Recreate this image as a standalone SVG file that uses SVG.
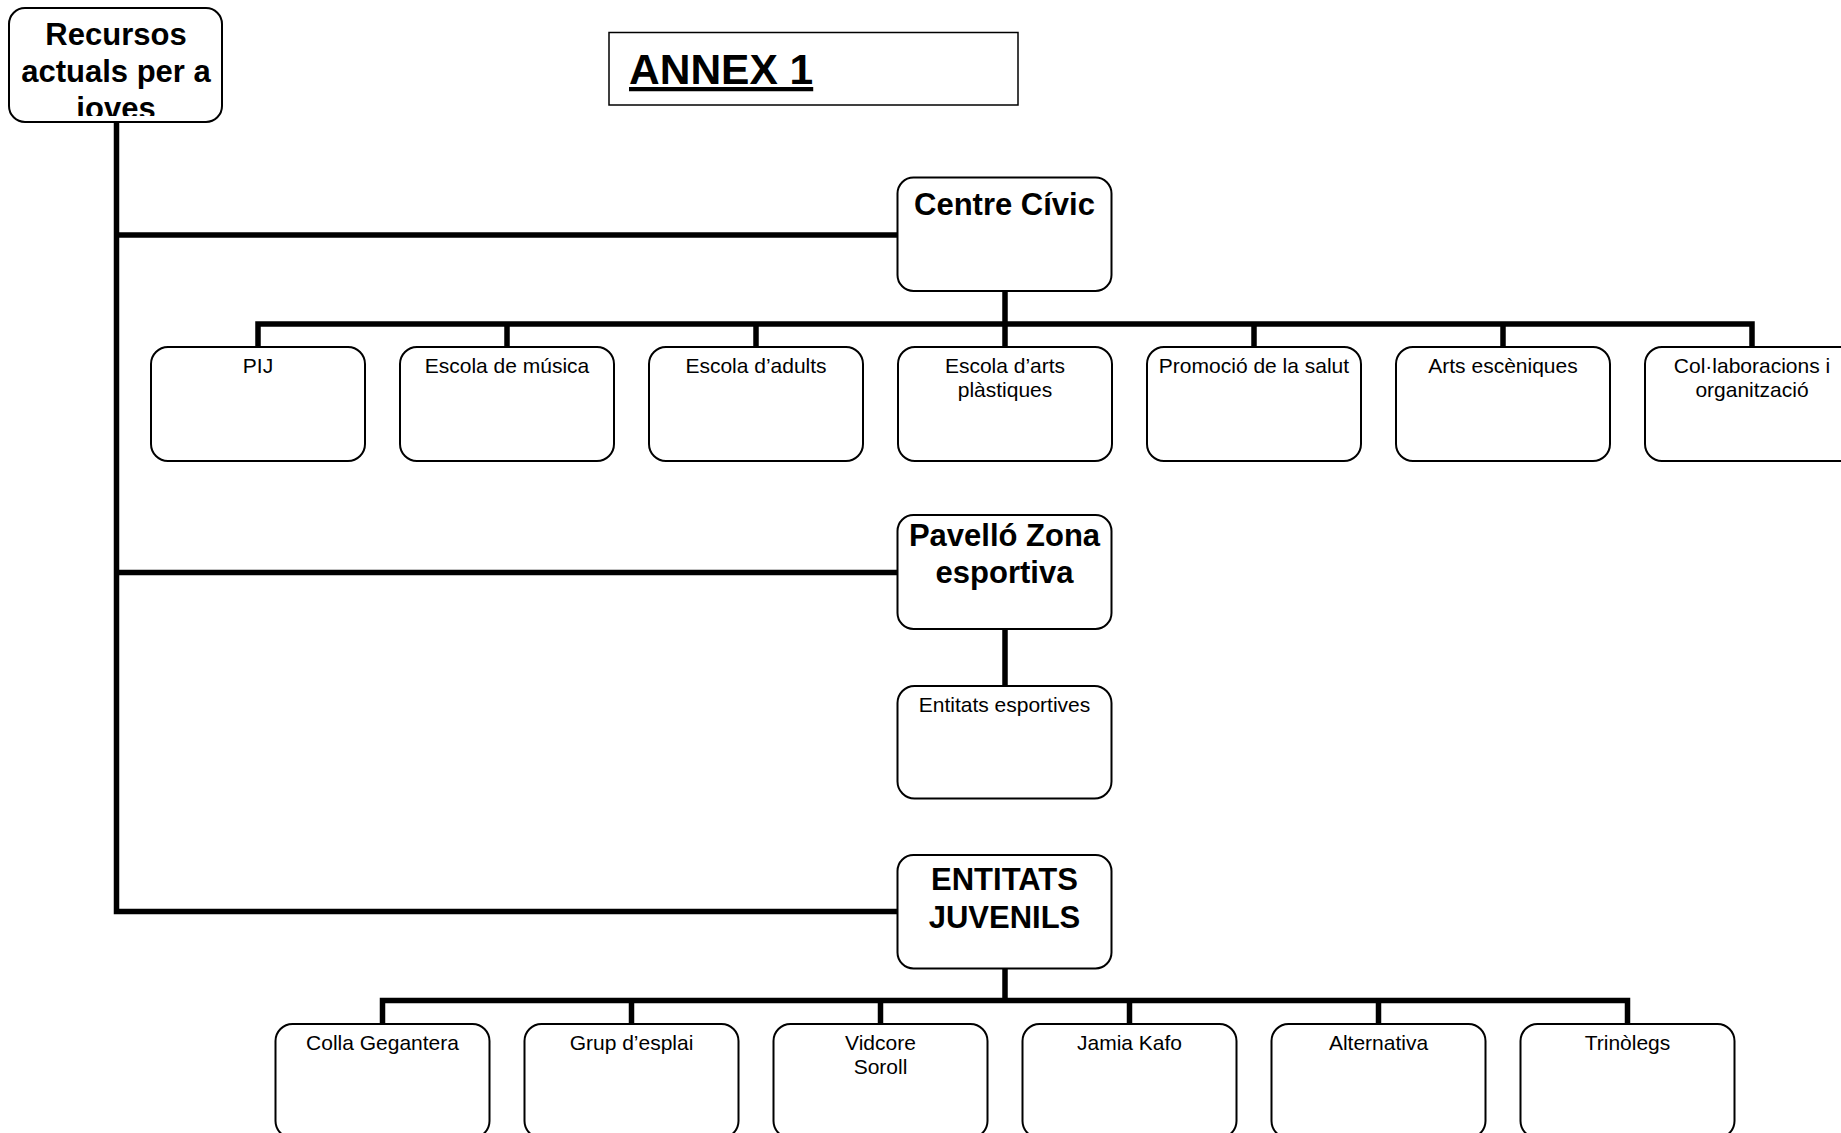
<svg xmlns="http://www.w3.org/2000/svg" width="1841" height="1133" viewBox="0 0 1841 1133">
<style>
.box{fill:#fff;stroke:#000;stroke-width:2}
.conn{fill:none;stroke:#000;stroke-width:5.5;stroke-linecap:butt;stroke-linejoin:miter}
.t{font-family:"Liberation Sans",Arial,sans-serif;font-size:21px;fill:#000;text-anchor:middle}
.b{font-family:"Liberation Sans",Arial,sans-serif;font-size:31px;font-weight:bold;fill:#000;text-anchor:middle}
</style>
<defs>
<clipPath id="rootclip"><rect x="10" y="9" width="211" height="107"/></clipPath>
</defs>
<rect width="1841" height="1133" fill="#fff"/>
<g id="connectors">
<polyline class="conn" points="116.5,122 116.5,911.5 897,911.5"/>
<line class="conn" x1="116.5" y1="235" x2="897" y2="235"/>
<line class="conn" x1="116.5" y1="572.5" x2="897" y2="572.5"/>
<line class="conn" x1="1005" y1="291" x2="1005" y2="324"/>
<polyline class="conn" points="258,347 258,324 1752,324 1752,347"/>
<line class="conn" x1="507" y1="324" x2="507" y2="347"/>
<line class="conn" x1="756" y1="324" x2="756" y2="347"/>
<line class="conn" x1="1005" y1="324" x2="1005" y2="347"/>
<line class="conn" x1="1254" y1="324" x2="1254" y2="347"/>
<line class="conn" x1="1503" y1="324" x2="1503" y2="347"/>
<line class="conn" x1="1005" y1="629" x2="1005" y2="686"/>
<line class="conn" x1="1005" y1="968" x2="1005" y2="1000.5"/>
<polyline class="conn" points="382.5,1024 382.5,1000.5 1627.5,1000.5 1627.5,1024"/>
<line class="conn" x1="631.5" y1="1000.5" x2="631.5" y2="1024"/>
<line class="conn" x1="880.5" y1="1000.5" x2="880.5" y2="1024"/>
<line class="conn" x1="1129.5" y1="1000.5" x2="1129.5" y2="1024"/>
<line class="conn" x1="1378.5" y1="1000.5" x2="1378.5" y2="1024"/>
</g>
<g id="title">
<rect x="609" y="32.5" width="409" height="72.5" fill="#fff" stroke="#000" stroke-width="1.5"/>
<text x="629" y="84" font-family="'Liberation Sans',Arial,sans-serif" font-size="42.5" font-weight="bold" text-decoration="underline">ANNEX 1</text>
</g>
<g id="root">
<rect class="box" x="9" y="8" width="213" height="114" rx="16"/>
<g clip-path="url(#rootclip)">
<text class="b" x="116" y="45">Recursos</text>
<text class="b" x="116" y="82">actuals per a</text>
<text class="b" x="116" y="119">joves</text>
</g>
</g>
<g id="centre-civic">
<rect class="box" x="897.5" y="177.5" width="214" height="113.5" rx="16"/>
<text class="b" x="1004.5" y="215">Centre Cívic</text>
</g>
<g id="pij"><rect class="box" x="151" y="347" width="214" height="114" rx="17"/><text class="t" x="258" y="373">PIJ</text></g>
<g id="escola-musica"><rect class="box" x="400" y="347" width="214" height="114" rx="17"/><text class="t" x="507" y="373">Escola de música</text></g>
<g id="escola-adults"><rect class="box" x="649" y="347" width="214" height="114" rx="17"/><text class="t" x="756" y="373">Escola d’adults</text></g>
<g id="escola-arts"><rect class="box" x="898" y="347" width="214" height="114" rx="17"/><text class="t" x="1005" y="373">Escola d’arts</text><text class="t" x="1005" y="397">plàstiques</text></g>
<g id="promocio-salut"><rect class="box" x="1147" y="347" width="214" height="114" rx="17"/><text class="t" x="1254" y="373">Promoció de la salut</text></g>
<g id="arts-esceniques"><rect class="box" x="1396" y="347" width="214" height="114" rx="17"/><text class="t" x="1503" y="373">Arts escèniques</text></g>
<g id="col-laboracions"><rect class="box" x="1645" y="347" width="214" height="114" rx="17"/><text class="t" x="1752" y="373">Col·laboracions i</text><text class="t" x="1752" y="397">organització</text></g>
<g id="pavello">
<rect class="box" x="897.5" y="515" width="214" height="114" rx="16"/>
<text class="b" x="1004.5" y="545.5">Pavelló Zona</text>
<text class="b" x="1004.5" y="583">esportiva</text>
</g>
<g id="entitats-esportives"><rect class="box" x="897.5" y="686" width="214" height="112.5" rx="17"/><text class="t" x="1004.5" y="712">Entitats esportives</text></g>
<g id="entitats-juvenils">
<rect class="box" x="897.5" y="855" width="214" height="113.5" rx="16"/>
<text class="b" x="1004.5" y="890">ENTITATS</text>
<text class="b" x="1004.5" y="928">JUVENILS</text>
</g>
<g id="colla-gegantera"><rect class="box" x="275.5" y="1024" width="214" height="114" rx="17"/><text class="t" x="382.5" y="1050">Colla Gegantera</text></g>
<g id="grup-esplai"><rect class="box" x="524.5" y="1024" width="214" height="114" rx="17"/><text class="t" x="631.5" y="1050">Grup d’esplai</text></g>
<g id="vidcore-soroll"><rect class="box" x="773.5" y="1024" width="214" height="114" rx="17"/><text class="t" x="880.5" y="1050">Vidcore</text><text class="t" x="880.5" y="1074">Soroll</text></g>
<g id="jamia-kafo"><rect class="box" x="1022.5" y="1024" width="214" height="114" rx="17"/><text class="t" x="1129.5" y="1050">Jamia Kafo</text></g>
<g id="alternativa"><rect class="box" x="1271.5" y="1024" width="214" height="114" rx="17"/><text class="t" x="1378.5" y="1050">Alternativa</text></g>
<g id="trinolegs"><rect class="box" x="1520.5" y="1024" width="214" height="114" rx="17"/><text class="t" x="1627.5" y="1050">Trinòlegs</text></g>
</svg>
